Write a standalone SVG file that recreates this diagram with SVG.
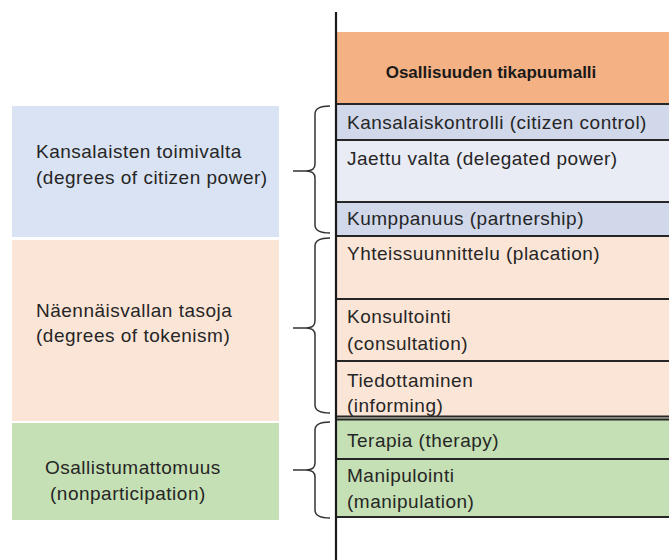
<svg xmlns="http://www.w3.org/2000/svg" width="669" height="560" viewBox="0 0 669 560">
<style>
.t{font-family:"Liberation Sans",Arial,sans-serif;font-size:19px;letter-spacing:0.5px;fill:#262626}
.h{font-family:"Liberation Sans",Arial,sans-serif;font-size:17px;font-weight:bold;fill:#1a1a1a}
.sep{stroke:#262626;stroke-width:2;fill:none}
.br{stroke:#333;stroke-width:1.5;fill:none}
</style>
<rect width="669" height="560" fill="#ffffff"/>
<g id="group-citizen-power">
<rect x="12" y="106" width="267" height="131" fill="#dae3f3"/>
<text class="t" x="36" y="158">Kansalaisten toimivalta</text>
<text class="t" x="36" y="184">(degrees of citizen power)</text>
</g>
<g id="group-tokenism">
<rect x="12" y="240" width="267" height="181" fill="#fbe5d6"/>
<text class="t" x="36" y="317">Näennäisvallan tasoja</text>
<text class="t" x="36" y="342">(degrees of tokenism)</text>
</g>
<g id="group-nonparticipation">
<rect x="12" y="423" width="267" height="97" fill="#c5e0b4"/>
<text class="t" x="45" y="474">Osallistumattomuus</text>
<text class="t" x="50" y="500">(nonparticipation)</text>
</g>
<g id="header">
<rect x="337" y="32" width="332" height="72" fill="#f4b183"/>
<text class="h" x="491" y="78" text-anchor="middle">Osallisuuden tikapuumalli</text>
</g>
<g id="row-citizen-control">
<rect x="337" y="104" width="332" height="36" fill="#d0d8ea"/>
<text class="t" x="347" y="129">Kansalaiskontrolli (citizen control)</text>
</g>
<g id="row-delegated-power">
<rect x="337" y="140" width="332" height="62" fill="#e9ebf5"/>
<text class="t" x="347" y="165">Jaettu valta (delegated power)</text>
</g>
<g id="row-partnership">
<rect x="337" y="202" width="332" height="34" fill="#d0d8ea"/>
<text class="t" x="347" y="225">Kumppanuus (partnership)</text>
</g>
<g id="row-placation">
<rect x="337" y="236" width="332" height="63" fill="#fbe5d6"/>
<text class="t" x="347" y="260">Yhteissuunnittelu (placation)</text>
</g>
<g id="row-consultation">
<rect x="337" y="299" width="332" height="62" fill="#fbe5d6"/>
<text class="t" x="347" y="323">Konsultointi</text>
<text class="t" x="347" y="350">(consultation)</text>
</g>
<g id="row-informing">
<rect x="337" y="361" width="332" height="57" fill="#fbe5d6"/>
<text class="t" x="347" y="387">Tiedottaminen</text>
<text class="t" x="347" y="412">(informing)</text>
</g>
<g id="row-therapy">
<rect x="337" y="418" width="332" height="41" fill="#c5e0b4"/>
<text class="t" x="347" y="447">Terapia (therapy)</text>
</g>
<g id="row-manipulation">
<rect x="337" y="459" width="332" height="58" fill="#c5e0b4"/>
<text class="t" x="347" y="482">Manipulointi</text>
<text class="t" x="347" y="508">(manipulation)</text>
</g>
<g id="connectors">
<line x1="336" y1="12" x2="336" y2="560" stroke="#1a1a1a" stroke-width="2.2"/>
<path class="sep" d="M337,104H669M337,140H669M337,202H669M337,236H669M337,299H669M337,361H669M337,416.5H669M337,419.5H669M337,459H669M337,517H669"/>
<path class="br" d="M330,106Q315,106 315,114L315,164Q315,171 306,171L293,171M306,171Q315,171 315,178L315,225Q315,233 330,233"/>
<path class="br" d="M330,238Q315,238 315,246L315,321Q315,328 306,328L293,328M306,328Q315,328 315,335L315,405Q315,413 330,413"/>
<path class="br" d="M330,422Q315,422 315,430L315,463Q315,470 306,470L293,470M306,470Q315,470 315,477L315,510Q315,518 330,518"/>
</g>
</svg>
